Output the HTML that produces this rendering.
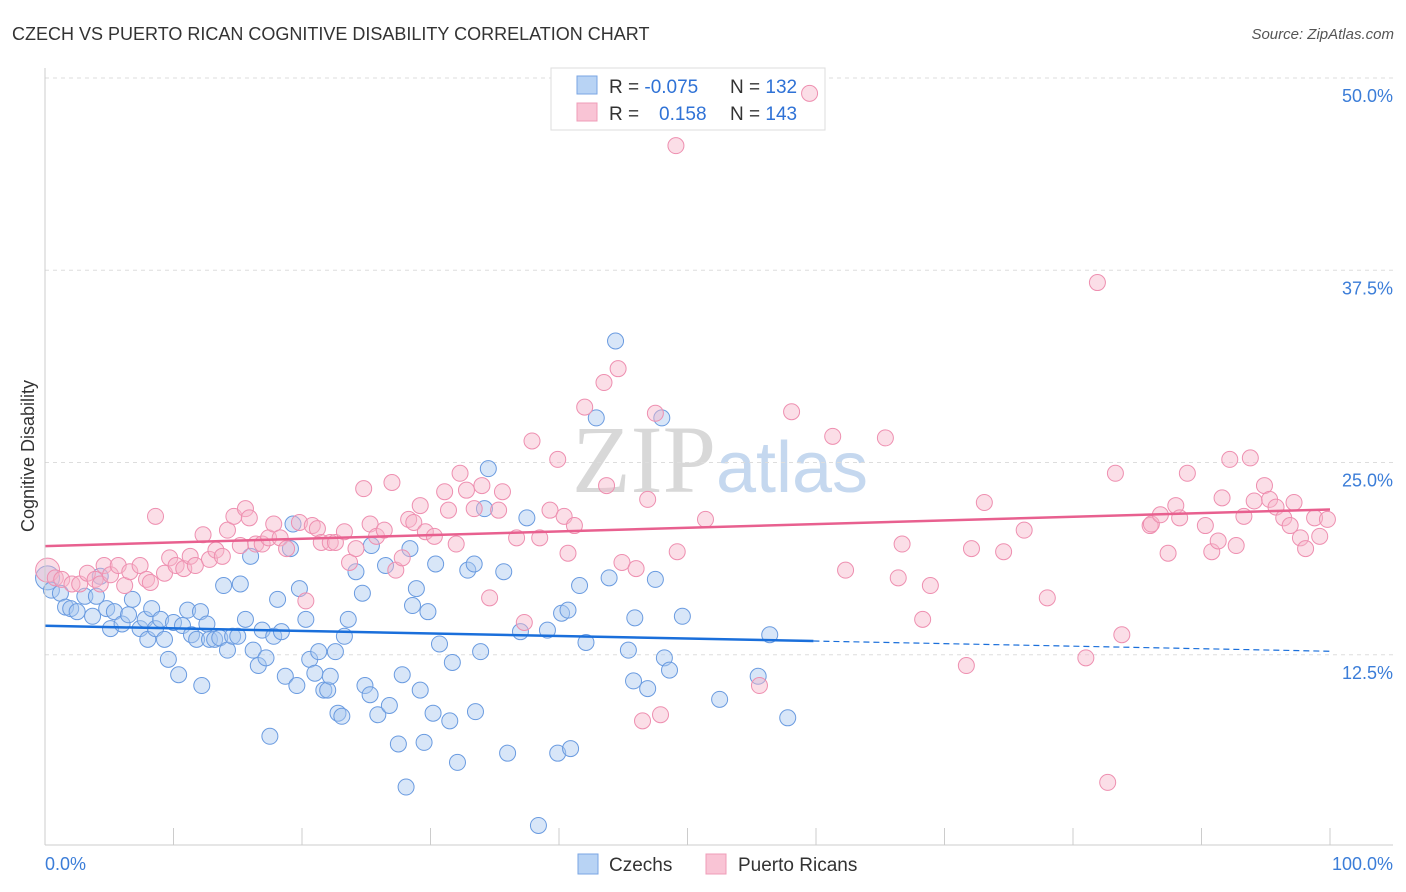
<!DOCTYPE html>
<html><head><meta charset="utf-8"><style>
body{margin:0;background:#fff;font-family:"Liberation Sans",sans-serif;}
#wrap{position:relative;width:1406px;height:892px;overflow:hidden;}
</style></head><body>
<div id="wrap">
<svg id="svg" width="1406" height="892">
<text x="12" y="40" font-size="18" fill="#333">CZECH VS PUERTO RICAN COGNITIVE DISABILITY CORRELATION CHART</text>
<text x="1394" y="39" font-size="15" fill="#555" text-anchor="end" font-style="italic">Source: ZipAtlas.com</text>
<text x="34" y="456" font-size="18" fill="#333" text-anchor="middle" transform="rotate(-90 34 456)">Cognitive Disability</text>
<text x="720" y="492" font-size="96" fill="#d8d8d8" text-anchor="middle" font-family="Liberation Serif,serif">ZIP<tspan fill="#c5d8ef" font-family="Liberation Sans,sans-serif" font-size="72">atlas</tspan></text>
<g id="grid"></g>
<g>
<rect x="551" y="68" width="274" height="62" fill="#fff" stroke="#ddd"/>
<rect x="577" y="76" width="20" height="18" fill="#b8d3f4" stroke="#7aa6e3"/>
<rect x="577" y="103" width="20" height="18" fill="#f9c4d5" stroke="#ef9cb8"/>
<text x="609" y="93" font-size="19" fill="#333">R = <tspan fill="#2f72d6">-0.075</tspan><tspan x="730">N = </tspan><tspan fill="#2f72d6">132</tspan></text>
<text x="609" y="120" font-size="19" fill="#333">R = <tspan x="659" fill="#2f72d6">0.158</tspan><tspan x="730">N = </tspan><tspan fill="#2f72d6">143</tspan></text>
</g>
<g id="pts"></g><g id="trend"></g><g id="axes"></g>
<g>
<rect x="578" y="854" width="20" height="20" fill="#b8d3f4" stroke="#7aa6e3"/>
<text x="609" y="871" font-size="19" fill="#333">Czechs</text>
<rect x="706" y="854" width="20" height="20" fill="#f9c4d5" stroke="#ef9cb8"/>
<text x="738" y="871" font-size="19" fill="#333">Puerto Ricans</text>
</g>
</svg>
</div>
<script>
const blueX=[0.2,0.5,1.2,1.6,2,2.5,3.1,3.7,4.0,4.3,4.8,5.1,5.4,6.0,6.5,6.8,7.4,7.8,8.0,8.3,8.6,9.0,9.3,9.6,10.0,10.4,10.7,11.1,11.4,11.8,12.1,12.2,12.6,12.8,13.2,13.6,13.9,14.2,14.6,15.0,15.2,15.6,16.0,16.2,16.6,16.9,17.2,17.5,17.8,18.1,18.4,18.7,19.1,19.3,19.6,19.8,20.3,20.6,21.0,21.3,21.7,22.0,22.2,22.6,22.8,23.1,23.3,23.6,24.2,24.7,24.9,25.3,25.4,25.9,26.5,26.8,27.5,27.8,28.1,28.4,28.6,28.9,29.2,29.5,29.8,30.2,30.4,30.7,31.5,31.7,32.1,32.9,33.4,33.5,33.9,34.2,34.5,35.7,36.0,37.0,37.5,38.4,39.1,39.9,40.2,40.7,40.9,41.6,42.1,42.9,43.9,44.4,45.4,45.8,45.9,46.9,47.5,48.0,48.2,48.6,49.6,52.5,55.5,56.4,57.8];
const blueY=[17.5,16.7,16.5,15.6,15.5,15.3,16.3,15.0,16.3,17.6,15.5,14.2,15.3,14.5,15.1,16.1,14.2,14.8,13.5,15.5,14.2,14.8,13.5,12.2,14.6,11.2,14.4,15.4,13.8,13.5,15.3,10.5,14.5,13.5,13.5,13.6,17.0,12.8,13.7,13.7,17.1,14.8,18.9,12.8,11.8,14.1,12.3,7.2,13.7,16.1,14.0,11.1,19.4,21.0,10.5,16.8,14.8,12.2,11.3,12.7,10.2,10.2,11.1,12.7,8.7,8.5,13.7,14.8,17.9,16.5,10.5,9.9,19.6,8.6,18.3,9.2,6.7,11.2,3.9,19.4,15.7,16.8,10.2,6.8,15.3,8.7,18.4,13.2,8.2,12.0,5.5,18.0,18.4,8.8,12.7,22.0,24.6,17.9,6.1,14.0,21.4,1.4,14.1,6.1,15.2,15.4,6.4,17.0,13.3,27.9,17.5,32.9,12.8,10.8,14.9,10.3,17.4,27.9,12.3,11.5,15.0,9.6,11.1,13.8,8.4];
const pinkX=[0.2,0.8,1.3,2.1,2.7,3.3,3.9,4.3,4.6,5.1,5.7,6.2,6.6,7.4,7.9,8.2,8.6,9.3,9.7,10.2,10.8,11.3,11.7,12.3,12.8,13.3,13.8,14.2,14.7,15.2,15.6,15.9,16.4,16.9,17.4,17.8,18.3,18.8,19.8,20.3,20.8,21.2,21.5,22.2,22.6,23.3,23.7,24.2,24.8,25.3,25.8,26.4,27.0,27.3,27.8,28.3,28.7,29.2,29.6,30.3,31.1,31.4,32.0,32.3,32.8,33.4,34.0,34.6,35.3,35.6,36.7,37.3,37.9,38.5,39.3,39.9,40.4,40.7,41.2,42.0,43.5,43.7,44.6,44.9,46.0,46.5,46.9,47.5,47.9,49.1,49.2,51.4,55.6,58.1,59.5,61.3,62.3,65.4,66.4,66.7,68.3,68.9,71.7,72.1,73.1,74.6,76.2,78.0,81.0,81.9,82.7,83.3,83.8,86.0,86.1,86.8,87.4,88.0,88.3,88.9,90.3,90.8,91.3,91.6,92.2,92.7,93.3,93.8,94.1,94.9,95.3,95.8,96.4,96.9,97.2,97.7,98.1,98.8,99.2,99.8];
const pinkY=[18.0,17.5,17.4,17.1,17.1,17.8,17.4,17.1,18.3,17.7,18.3,17.0,17.9,18.3,17.4,17.2,21.5,17.8,18.8,18.3,18.1,18.9,18.3,20.3,18.7,19.3,18.9,20.6,21.5,19.6,22.0,21.4,19.7,19.7,20.1,21.0,20.1,19.4,21.1,16.0,20.9,20.7,19.8,19.8,19.8,20.5,18.5,19.4,23.3,21.0,20.2,20.6,23.7,18.0,18.8,21.3,21.1,22.2,20.5,20.2,23.1,21.9,19.7,24.3,23.2,22.0,23.5,16.2,21.9,23.1,20.1,14.6,26.4,20.1,21.9,25.2,21.5,19.1,20.9,28.6,30.2,23.5,31.1,18.5,18.1,8.2,22.6,28.2,8.6,45.6,19.2,21.3,10.5,28.3,49.0,26.7,18.0,26.6,17.5,19.7,14.8,17.0,11.8,19.4,22.4,19.2,20.6,16.2,12.3,36.7,4.2,24.3,13.8,20.9,21.0,21.6,19.1,22.2,21.4,24.3,20.9,19.2,19.9,22.7,25.2,19.6,21.5,25.3,22.5,23.5,22.6,22.1,21.4,20.9,22.4,20.1,19.4,21.4,20.2,21.3];
const yTicks=[12.5,25.0,37.5,50.0];
const xTickLabels=["0.0%","100.0%"];

const NS="http://www.w3.org/2000/svg";
const X0=45,X1=1330,Y0=847,PX=(X1-X0)/100,PY=(847-78)/50;
const sx=v=>X0+v*PX, sy=v=>Y0-v*PY;
function mk(tag,attrs,parent){const e=document.createElementNS(NS,tag);for(const k in attrs)e.setAttribute(k,attrs[k]);document.getElementById(parent).appendChild(e);return e;}

yTicks.forEach(t=>{
  const l=mk('line',{x1:X0,x2:1393,y1:sy(t),y2:sy(t),stroke:'#ddd','stroke-dasharray':'4,4'},'grid');
  
  
  const tx=mk('text',{x:1393,y:sy(t)+24,'font-size':18,fill:'#3b7dd8','text-anchor':'end'},'axes');
  tx.textContent=t.toFixed(1)+'%';
  
  
});
const yl=mk('line',{x1:X0,x2:X0,y1:68,y2:845,stroke:'#ccc'},'axes');


const xl=mk('line',{x1:X0,x2:1393,y1:845,y2:845,stroke:'#ccc'},'axes');


for(let i=0;i<=10;i++){
  const t=mk('line',{x1:sx(i*10),x2:sx(i*10),y1:828,y2:845,stroke:'#ccc'},'axes');
  
  
}
const xa=mk('text',{x:45,y:870,'font-size':18,fill:'#3b7dd8'},'axes');xa.textContent=xTickLabels[0];


const xb=mk('text',{x:1393,y:870,'font-size':18,fill:'#3b7dd8','text-anchor':'end'},'axes');xb.textContent=xTickLabels[1];



function dots(xs,ys,fill,stroke,name){
  xs.forEach((x,i)=>{
    const c=mk('circle',{cx:sx(x),cy:sy(ys[i]),r:(i===0?12:8),fill:fill,'fill-opacity':0.45,stroke:stroke,'stroke-width':1},'pts');
    
    
  });
}
dots(blueX,blueY,'#a8c8f0','#6a9be0','czech-point');
dots(pinkX,pinkY,'#f7b5ca','#ee8fb0','puerto-rican-point');

function reg(xs,ys){const n=xs.length;let mx=0,my=0;xs.forEach((x,i)=>{mx+=x;my+=ys[i];});mx/=n;my/=n;let a=0,b=0;xs.forEach((x,i)=>{a+=(x-mx)*(ys[i]-my);b+=(x-mx)*(x-mx);});const s=a/b;return [my-s*mx,s];}
const [bi,bs]=reg(blueX,blueY);
const maxB=Math.max(...blueX);
const b1=mk('line',{x1:sx(0),y1:sy(bi),x2:sx(maxB+2),y2:sy(bi+bs*(maxB+2)),stroke:'#1a6fdb','stroke-width':2.5},'trend');


const b2=mk('line',{x1:sx(maxB+2),y1:sy(bi+bs*(maxB+2)),x2:sx(100),y2:sy(bi+bs*100),stroke:'#1a6fdb','stroke-width':1.2,'stroke-dasharray':'6,4'},'trend');


const [pi,ps]=reg(pinkX,pinkY);
const p1=mk('line',{x1:sx(0),y1:sy(pi),x2:sx(100),y2:sy(pi+ps*100),stroke:'#e8608f','stroke-width':2.5},'trend');


</script>
</body></html>
